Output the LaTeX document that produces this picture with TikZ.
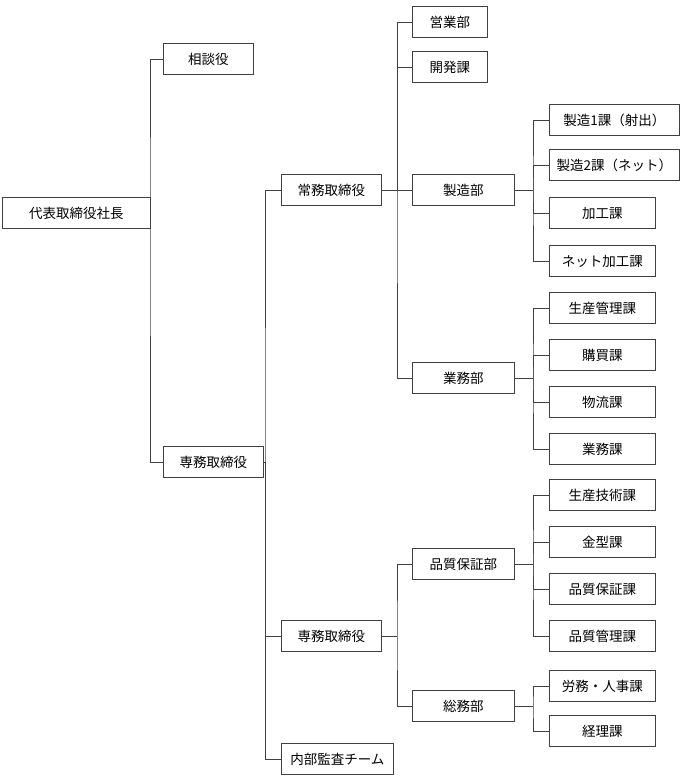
\documentclass[tikz,border=0pt]{standalone}
\usepackage{fontspec}
\setmainfont{Noto Sans CJK JP}
\begin{document}
\begin{tikzpicture}[x=1pt,y=-1pt,
 bx/.style={draw=black!75,line width=0.8pt,anchor=west,minimum height=31pt,font=\fontsize{13.5}{14}\selectfont,inner sep=2pt},
 ln/.style={draw=black!75,line width=0.8pt}]
\useasboundingbox (0,0) rectangle (680,777);
\node[bx,minimum width=148pt] (root) at (2,213) {代表取締役社長};
\node[bx,minimum width=90pt] (sodan) at (163,59) {相談役};
\node[bx,minimum width=100pt] (sm1) at (163,462) {専務取締役};
\node[bx,minimum width=100pt] (jm) at (281,190) {常務取締役};
\node[bx,minimum width=100pt] (sm2) at (281,636) {専務取締役};
\node[bx,minimum width=112pt] (kansa) at (281,759) {内部監査チーム};
\node[bx,minimum width=75pt] (eigyo) at (412,22) {営業部};
\node[bx,minimum width=75pt] (kaihatsu) at (412,67) {開発課};
\node[bx,minimum width=102pt] (seizo) at (412,190) {製造部};
\node[bx,minimum width=102pt] (gyomu) at (412,378) {業務部};
\node[bx,minimum width=102pt] (hinsho) at (412,564) {品質保証部};
\node[bx,minimum width=102pt] (somu) at (412,706) {総務部};
\node[bx,minimum width=130pt] (s1) at (549,120) {製造1課（射出）};
\node[bx,minimum width=130pt] (s2) at (549,165) {製造2課（ネット）};
\node[bx,minimum width=106pt] (s3) at (549,213) {加工課};
\node[bx,minimum width=106pt] (s4) at (549,261) {ネット加工課};
\node[bx,minimum width=106pt] (g1) at (549,308) {生産管理課};
\node[bx,minimum width=106pt] (g2) at (549,355) {購買課};
\node[bx,minimum width=106pt] (g3) at (549,402) {物流課};
\node[bx,minimum width=106pt] (g4) at (549,449) {業務課};
\node[bx,minimum width=106pt] (h1) at (549,495) {生産技術課};
\node[bx,minimum width=106pt] (h2) at (549,542) {金型課};
\node[bx,minimum width=106pt] (h3) at (549,589) {品質保証課};
\node[bx,minimum width=106pt] (h4) at (549,636) {品質管理課};
\node[bx,minimum width=106pt] (o1) at (549,686) {労務・人事課};
\node[bx,minimum width=106pt] (o2) at (549,731) {経理課};
\coordinate (j1) at (150,213);
\coordinate (j2) at (265,462);
\coordinate (j3) at (397,190);
\coordinate (j4) at (397,636);
\coordinate (j5) at (533,190);
\coordinate (j6) at (533,378);
\coordinate (j7) at (533,564);
\coordinate (j8) at (533,706);
\draw[ln] (root.east) -- (j1);
\draw[ln] (sodan.west) -| (j1) |- (sm1.west);
\draw[ln] (sm1.east) -- (j2);
\draw[ln] (jm.west) -| (j2) |- (kansa.west);
\draw[ln] (j2) |- (sm2.west);
\draw[ln] (jm.east) -- (j3);
\draw[ln] (eigyo.west) -| (j3) |- (gyomu.west);
\draw[ln] (kaihatsu.west) -| (j3) -- (seizo.west);
\draw[ln] (sm2.east) -- (j4);
\draw[ln] (hinsho.west) -| (j4) |- (somu.west);
\draw[ln] (seizo.east) -- (j5);
\draw[ln] (s1.west) -| (j5) |- (s4.west);
\draw[ln] (s2.west) -| (j5) |- (s3.west);
\draw[ln] (gyomu.east) -- (j6);
\draw[ln] (g1.west) -| (j6) |- (g4.west);
\draw[ln] (g2.west) -| (j6) |- (g3.west);
\draw[ln] (hinsho.east) -- (j7);
\draw[ln] (h1.west) -| (j7) |- (h4.west);
\draw[ln] (h2.west) -| (j7) |- (h3.west);
\draw[ln] (somu.east) -- (j8);
\draw[ln] (o1.west) -| (j8) |- (o2.west);
\end{tikzpicture}
\end{document}
